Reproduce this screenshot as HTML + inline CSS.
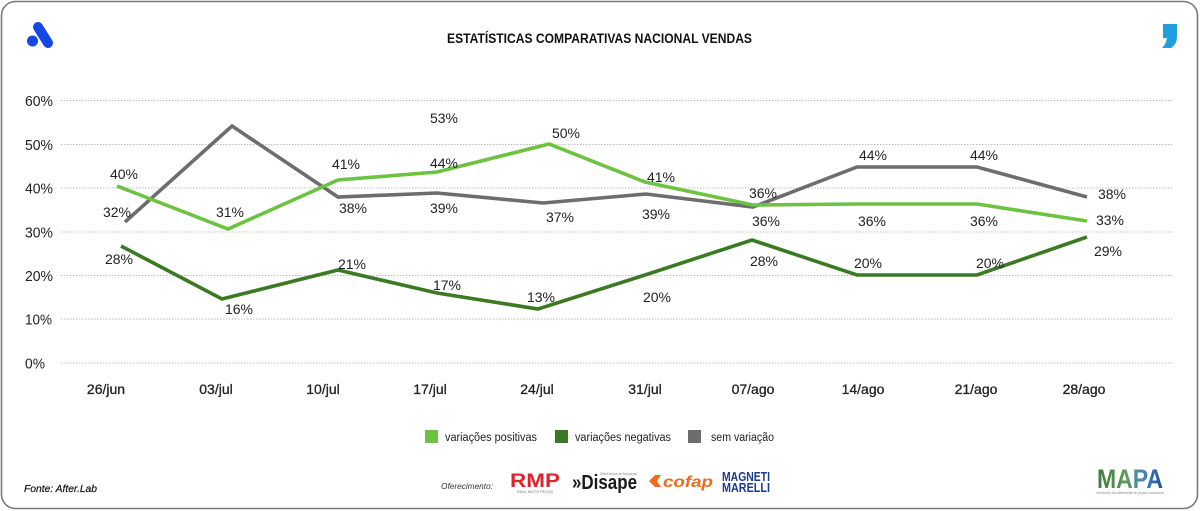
<!DOCTYPE html>
<html><head><meta charset="utf-8"><style>
html,body{margin:0;padding:0;background:#fff;}
svg{display:block;}
text{font-family:"Liberation Sans",sans-serif;}
</style></head><body>
<svg width="1200" height="511" viewBox="0 0 1200 511" xmlns="http://www.w3.org/2000/svg">
<defs>
<linearGradient id="mapa" x1="0" y1="0" x2="1" y2="0">
<stop offset="0" stop-color="#3f7a3a"/><stop offset="0.45" stop-color="#5d9a58"/><stop offset="0.7" stop-color="#3f86c4"/><stop offset="1" stop-color="#1c4f9a"/>
</linearGradient>
</defs>
<rect x="1.5" y="1.5" width="1196" height="507" rx="14" ry="14" fill="#fff" stroke="#7a7a7a" stroke-width="1.6"/>

<!-- logos top -->
<line x1="38" y1="27" x2="48" y2="43" stroke="#1547e5" stroke-width="10" stroke-linecap="round"/>
<circle cx="32.5" cy="41" r="5.5" fill="#1547e5"/>
<path d="M1163,24 H1177 V37 Q1177,44 1171,48 H1162 Q1166,44 1167,38 H1163 Z" fill="#1fa0dc"/>

<text x="447" y="43" font-size="13.5" font-weight="bold" fill="#111" textLength="305" lengthAdjust="spacingAndGlyphs">ESTATÍSTICAS COMPARATIVAS NACIONAL VENDAS</text>

<!-- gridlines -->
<g stroke="#bdbdbd" stroke-width="1" stroke-dasharray="1.5,1.5">
<line x1="61" y1="100.5" x2="1172" y2="100.5"/>
<line x1="61" y1="144.5" x2="1172" y2="144.5"/>
<line x1="61" y1="188" x2="1172" y2="188"/>
<line x1="61" y1="232" x2="1172" y2="232"/>
<line x1="61" y1="275.5" x2="1172" y2="275.5"/>
<line x1="61" y1="319" x2="1172" y2="319"/>
<line x1="61" y1="363" x2="1172" y2="363"/>
</g>
<g font-size="14.5" fill="#222">
<text x="25" y="106" textLength="28" lengthAdjust="spacingAndGlyphs">60%</text>
<text x="25" y="150" textLength="28" lengthAdjust="spacingAndGlyphs">50%</text>
<text x="25" y="193.5" textLength="28" lengthAdjust="spacingAndGlyphs">40%</text>
<text x="25" y="237.5" textLength="28" lengthAdjust="spacingAndGlyphs">30%</text>
<text x="25" y="281" textLength="28" lengthAdjust="spacingAndGlyphs">20%</text>
<text x="25" y="324.5" textLength="27" lengthAdjust="spacingAndGlyphs">10%</text>
<text x="25" y="368.5" textLength="20" lengthAdjust="spacingAndGlyphs">0%</text>
</g>

<!-- x labels -->
<g font-size="14" fill="#222" text-anchor="middle" stroke="#222" stroke-width="0.3">
<text x="106" y="394">26/jun</text>
<text x="216" y="394">03/jul</text>
<text x="323" y="394">10/jul</text>
<text x="430" y="394">17/jul</text>
<text x="537" y="394">24/jul</text>
<text x="645" y="394">31/jul</text>
<text x="753" y="394">07/ago</text>
<text x="863" y="394">14/ago</text>
<text x="976" y="394">21/ago</text>
<text x="1084" y="394">28/ago</text>
</g>

<!-- series -->
<g fill="none" stroke-width="3.6" stroke-linejoin="miter">
<polyline stroke="#6d6d6d" points="125,222 232,126 338,197 437,193 543,203 646,194 753,207 857,167 977,167 1087,197"/>
<polyline stroke="#6cc241" points="117,186 228,229 338,180 437,172 549,144 645,182 753,205 857,204 977,204 1087,221"/>
<polyline stroke="#3b7a23" points="121,246 222,299 338,270 437,293 538,309 645,275 752,240 857,275 977,275 1087,237"/>
</g>

<!-- data labels -->
<g font-size="14" fill="#222" text-anchor="middle">
<text x="124" y="179">40%</text>
<text x="230" y="217">31%</text>
<text x="346" y="169">41%</text>
<text x="444" y="168">44%</text>
<text x="566" y="138">50%</text>
<text x="661" y="182">41%</text>
<text x="763" y="198">36%</text>
<text x="872" y="226">36%</text>
<text x="984" y="226">36%</text>
<text x="1110" y="225">33%</text>

<text x="117" y="217">32%</text>
<text x="444" y="123">53%</text>
<text x="353" y="213">38%</text>
<text x="444" y="213">39%</text>
<text x="560" y="222">37%</text>
<text x="656" y="219">39%</text>
<text x="766" y="226">36%</text>
<text x="873" y="160">44%</text>
<text x="984" y="160">44%</text>
<text x="1112" y="199">38%</text>

<text x="119" y="264">28%</text>
<text x="239" y="314">16%</text>
<text x="352" y="269">21%</text>
<text x="447" y="290">17%</text>
<text x="541" y="302">13%</text>
<text x="657" y="302">20%</text>
<text x="764" y="266">28%</text>
<text x="868" y="268">20%</text>
<text x="990" y="268">20%</text>
<text x="1108" y="256">29%</text>
</g>

<!-- legend -->
<rect x="425" y="430" width="13" height="13" fill="#6cc241"/>
<text x="445" y="441" font-size="11.5" fill="#222" textLength="92" lengthAdjust="spacingAndGlyphs">variações positivas</text>
<rect x="555" y="430" width="13" height="13" fill="#3b7a23"/>
<text x="575" y="441" font-size="11.5" fill="#222" textLength="96" lengthAdjust="spacingAndGlyphs">variações negativas</text>
<rect x="688" y="430" width="13" height="13" fill="#6d6d6d"/>
<text x="711" y="441" font-size="11.5" fill="#222" textLength="63" lengthAdjust="spacingAndGlyphs">sem variação</text>

<!-- footer -->
<text x="24" y="492" font-size="10.5" font-style="italic" fill="#111" stroke="#111" stroke-width="0.2" textLength="73" lengthAdjust="spacingAndGlyphs">Fonte: After.Lab</text>
<text x="441" y="489" font-size="8.5" font-style="italic" fill="#333" textLength="52" lengthAdjust="spacingAndGlyphs">Oferecimento:</text>

<!-- RMP -->
<text x="510" y="487" font-size="19" font-weight="bold" fill="#e2222a" textLength="50" lengthAdjust="spacingAndGlyphs">RMP</text>
<text x="517" y="493" font-size="4" fill="#777" textLength="36" lengthAdjust="spacingAndGlyphs">REAL MOTO PEÇAS</text>
<!-- Disape -->
<text x="600" y="475" font-size="3.5" fill="#888" textLength="37" lengthAdjust="spacingAndGlyphs">Distribuidora de Autopeças</text>
<text x="572" y="489" font-size="20" font-weight="bold" fill="#1a1a1a" textLength="65" lengthAdjust="spacingAndGlyphs">»Disape</text>
<!-- cofap -->
<path d="M649,481 L655,475 H661 L657,481 L661,487 H655 Z" fill="#f26a1b"/>
<text x="663" y="487" font-size="16" font-weight="bold" font-style="italic" fill="#f26a1b" textLength="50" lengthAdjust="spacingAndGlyphs">cofap</text>
<!-- Magneti Marelli -->
<text x="722" y="481" font-size="12.5" font-weight="bold" fill="#1b3b8c" textLength="48" lengthAdjust="spacingAndGlyphs">MAGNETI</text>
<text x="722" y="492" font-size="12.5" font-weight="bold" fill="#1b3b8c" textLength="48" lengthAdjust="spacingAndGlyphs">MARELLI</text>
<!-- MAPA -->
<text x="1097" y="488" font-size="27" font-weight="bold" fill="url(#mapa)" textLength="66" lengthAdjust="spacingAndGlyphs">MAPA</text>
<text x="1096" y="494" font-size="3.5" fill="#888" textLength="68" lengthAdjust="spacingAndGlyphs">movimento dos aftermarket de peças e acessórios</text>
</svg>
</body></html>
